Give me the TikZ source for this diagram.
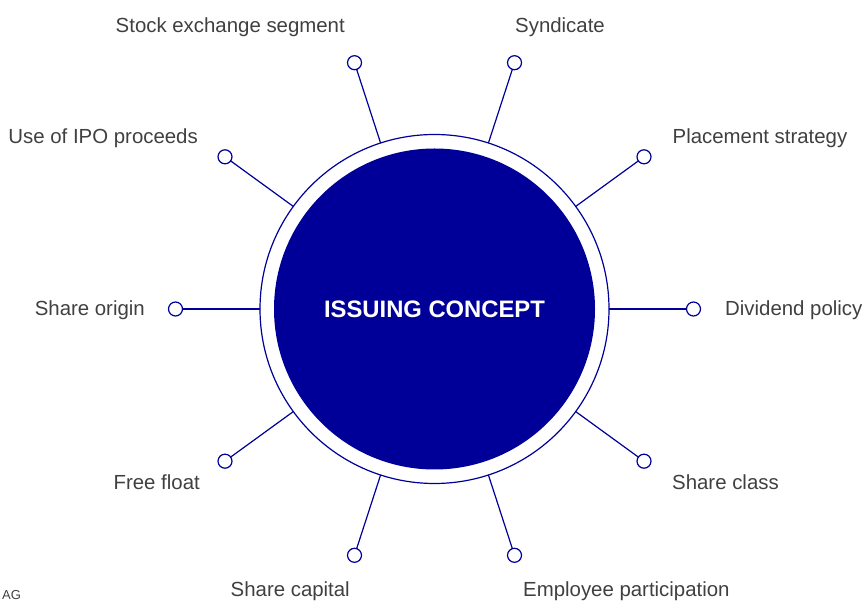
\documentclass[tikz,border=0pt]{standalone}
\usepackage{fontspec}
\setmainfont{Liberation Sans}
\definecolor{ipoblue}{RGB}{0,0,153}
\definecolor{labelgray}{RGB}{64,64,64}
\begin{document}
\begin{tikzpicture}[line join=bevel,
  label/.style={draw=none,inner sep=0pt,text=labelgray,font=\fontsize{20.4bp}{24bp}\selectfont},
  knob/.style={circle,draw=ipoblue,fill=white,line width=1.2bp,inner sep=0pt,outer sep=0pt,minimum size=14bp},
  spoke/.style={ipoblue,line width=1.2bp},
]
%%
\useasboundingbox (0bp,0bp) rectangle (864bp,601bp);
\node (ring) at (434.5bp,292bp) [circle,draw=ipoblue,line width=1.2bp,inner sep=0pt,outer sep=0pt,minimum size=349bp] {};
\node (concept) at (434.5bp,292bp) [circle,fill=ipoblue,inner sep=0pt,minimum size=321bp,text=white,font=\bfseries\fontsize{23.8bp}{28bp}\selectfont] {ISSUING CONCEPT};
%
  \node (dividend*) at (693.5bp,292bp) [knob] {};
  \node (placement*) at (644bp,444.2bp) [knob] {};
  \node (syndicate*) at (514.5bp,538.3bp) [knob] {};
  \node (segment*) at (354.5bp,538.3bp) [knob] {};
  \node (proceeds*) at (225bp,444.2bp) [knob] {};
  \node (origin*) at (175.5bp,292bp) [knob] {};
  \node (float*) at (225bp,139.8bp) [knob] {};
  \node (capital*) at (354.5bp,45.7bp) [knob] {};
  \node (participation*) at (514.5bp,45.7bp) [knob] {};
  \node (class*) at (644bp,139.8bp) [knob] {};
%
  \draw [spoke] (ring) -- (dividend*);
  \draw [spoke] (ring) -- (placement*);
  \draw [spoke] (ring) -- (syndicate*);
  \draw [spoke] (ring) -- (segment*);
  \draw [spoke] (ring) -- (proceeds*);
  \draw [spoke] (ring) -- (origin*);
  \draw [spoke] (ring) -- (float*);
  \draw [spoke] (ring) -- (capital*);
  \draw [spoke] (ring) -- (participation*);
  \draw [spoke] (ring) -- (class*);
%
  \node (segment) at (345bp,568bp) [label,anchor=base east] {Stock exchange segment};
  \node (syndicate) at (515bp,568bp) [label,anchor=base west] {Syndicate};
  \node (proceeds) at (198bp,457bp) [label,anchor=base east] {Use of IPO proceeds};
  \node (placement) at (672.5bp,457bp) [label,anchor=base west] {Placement strategy};
  \node (origin) at (145bp,285bp) [label,anchor=base east] {Share origin};
  \node (dividend) at (725bp,285bp) [label,anchor=base west] {Dividend policy};
  \node (float) at (200bp,111bp) [label,anchor=base east] {Free float};
  \node (class) at (672bp,111bp) [label,anchor=base west] {Share class};
  \node (capital) at (350bp,4.5bp) [label,anchor=base east] {Share capital};
  \node (participation) at (523bp,4.5bp) [label,anchor=base west] {Employee participation};
  \node (ag) at (2bp,1.5bp) [label,anchor=base west,font=\fontsize{13bp}{15bp}\selectfont] {AG};
%
\end{tikzpicture}
\end{document}
